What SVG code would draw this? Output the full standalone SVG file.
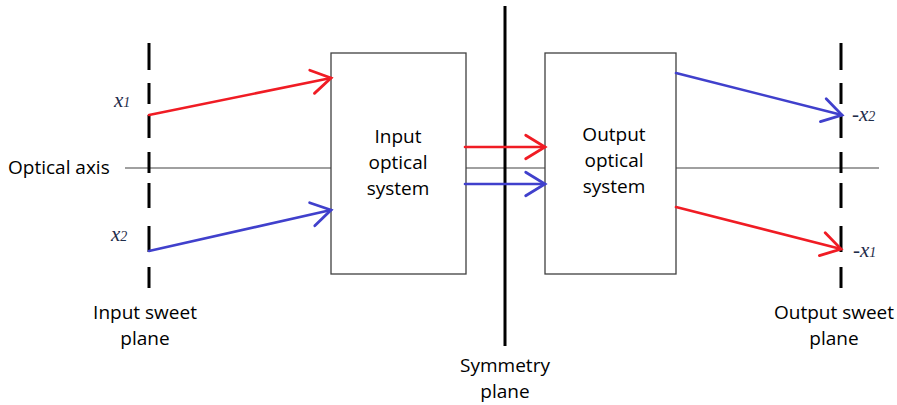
<svg xmlns="http://www.w3.org/2000/svg" width="897" height="405" viewBox="0 0 897 405">
  <defs>
    <style>
      .label { font-family: "Open Sans", "Liberation Sans", sans-serif; font-size: 19px; fill: #000; }
      .mid { text-anchor: middle; }
      .var { font-family: "Liberation Serif", "DejaVu Serif", serif; font-style: italic; font-size: 21px; fill: #1f2d4a; }
      .sub { font-size: 14px; }
      .plane { stroke: #000; stroke-width: 3; }
      .box { fill: #fff; stroke: #404040; stroke-width: 1.3; }
      .axis { stroke: #808080; stroke-width: 1.5; fill: none; }
      .ray { fill: none; stroke-width: 2.6; stroke-linecap: round; }
      .red { stroke: #f01c24; }
      .blue { stroke: #4040cc; }
    </style>
    <marker id="head-red" markerUnits="userSpaceOnUse" orient="auto" markerWidth="30" markerHeight="30" refX="0" refY="0" viewBox="-22 -14 26 28" overflow="visible">
      <path d="M-18,-11 L0,0 L-18,11" fill="none" stroke="#f01c24" stroke-width="2.6" stroke-linecap="round" stroke-linejoin="miter"/>
    </marker>
    <marker id="head-blue" markerUnits="userSpaceOnUse" orient="auto" markerWidth="30" markerHeight="30" refX="0" refY="0" viewBox="-22 -14 26 28" overflow="visible">
      <path d="M-18,-11 L0,0 L-18,11" fill="none" stroke="#4040cc" stroke-width="2.6" stroke-linecap="round" stroke-linejoin="miter"/>
    </marker>
  </defs>

  <rect width="897" height="405" fill="#fff"/>

  <!-- optical axis -->
  <g id="optical-axis">
    <line class="axis" x1="125" y1="168" x2="879" y2="168"/>
    <text class="label" x="8" y="174">Optical axis</text>
  </g>

  <!-- dashed sweet planes -->
  <g id="input-sweet-plane">
    <path class="plane" d="M149,43V70M149,83V104M149,115V138M149,152V173M149,183V208M149,226V252M149,267V288"/>
    <text class="label mid" x="145" y="319">Input sweet</text>
    <text class="label mid" x="145" y="345">plane</text>
  </g>

  <g id="output-sweet-plane">
    <path class="plane" d="M841,43V70M841,83V104M841,115V138M841,152V173M841,183V208M841,226V252M841,267V288"/>
    <text class="label mid" x="834" y="319">Output sweet</text>
    <text class="label mid" x="834" y="345">plane</text>
  </g>

  <!-- symmetry plane -->
  <g id="symmetry-plane">
    <line class="plane" x1="505" y1="6" x2="505" y2="346"/>
    <text class="label mid" x="505" y="372">Symmetry</text>
    <text class="label mid" x="505" y="398">plane</text>
  </g>

  <!-- optical systems -->
  <g id="input-optical-system">
    <rect class="box" x="331" y="53" width="135" height="221"/>
    <text class="label mid" x="398" y="143">Input</text>
    <text class="label mid" x="398" y="169">optical</text>
    <text class="label mid" x="398" y="195">system</text>
  </g>

  <g id="output-optical-system">
    <rect class="box" x="545" y="53" width="131" height="221"/>
    <text class="label mid" x="614" y="141">Output</text>
    <text class="label mid" x="614" y="167">optical</text>
    <text class="label mid" x="614" y="193">system</text>
  </g>

  <!-- ray positions -->
  <g id="ray-labels">
    <text class="var" x="114" y="107">x<tspan class="sub">1</tspan></text>
    <text class="var" x="111" y="241">x<tspan class="sub">2</tspan></text>
    <text class="var" x="852" y="121">-x<tspan class="sub">2</tspan></text>
    <text class="var" x="853" y="257">-x<tspan class="sub">1</tspan></text>
  </g>

  <!-- rays -->
  <g id="connectors">
    <line class="ray red" x1="149" y1="115" x2="331" y2="78" marker-end="url(#head-red)"/>
    <line class="ray blue" x1="149" y1="251" x2="331" y2="210" marker-end="url(#head-blue)"/>
    <line class="ray red" x1="465" y1="147" x2="545" y2="147" marker-end="url(#head-red)"/>
    <line class="ray blue" x1="465" y1="184" x2="545" y2="184" marker-end="url(#head-blue)"/>
    <line class="ray blue" x1="676" y1="73" x2="842" y2="115" marker-end="url(#head-blue)"/>
    <line class="ray red" x1="676" y1="207" x2="841" y2="249" marker-end="url(#head-red)"/>
  </g>
</svg>
